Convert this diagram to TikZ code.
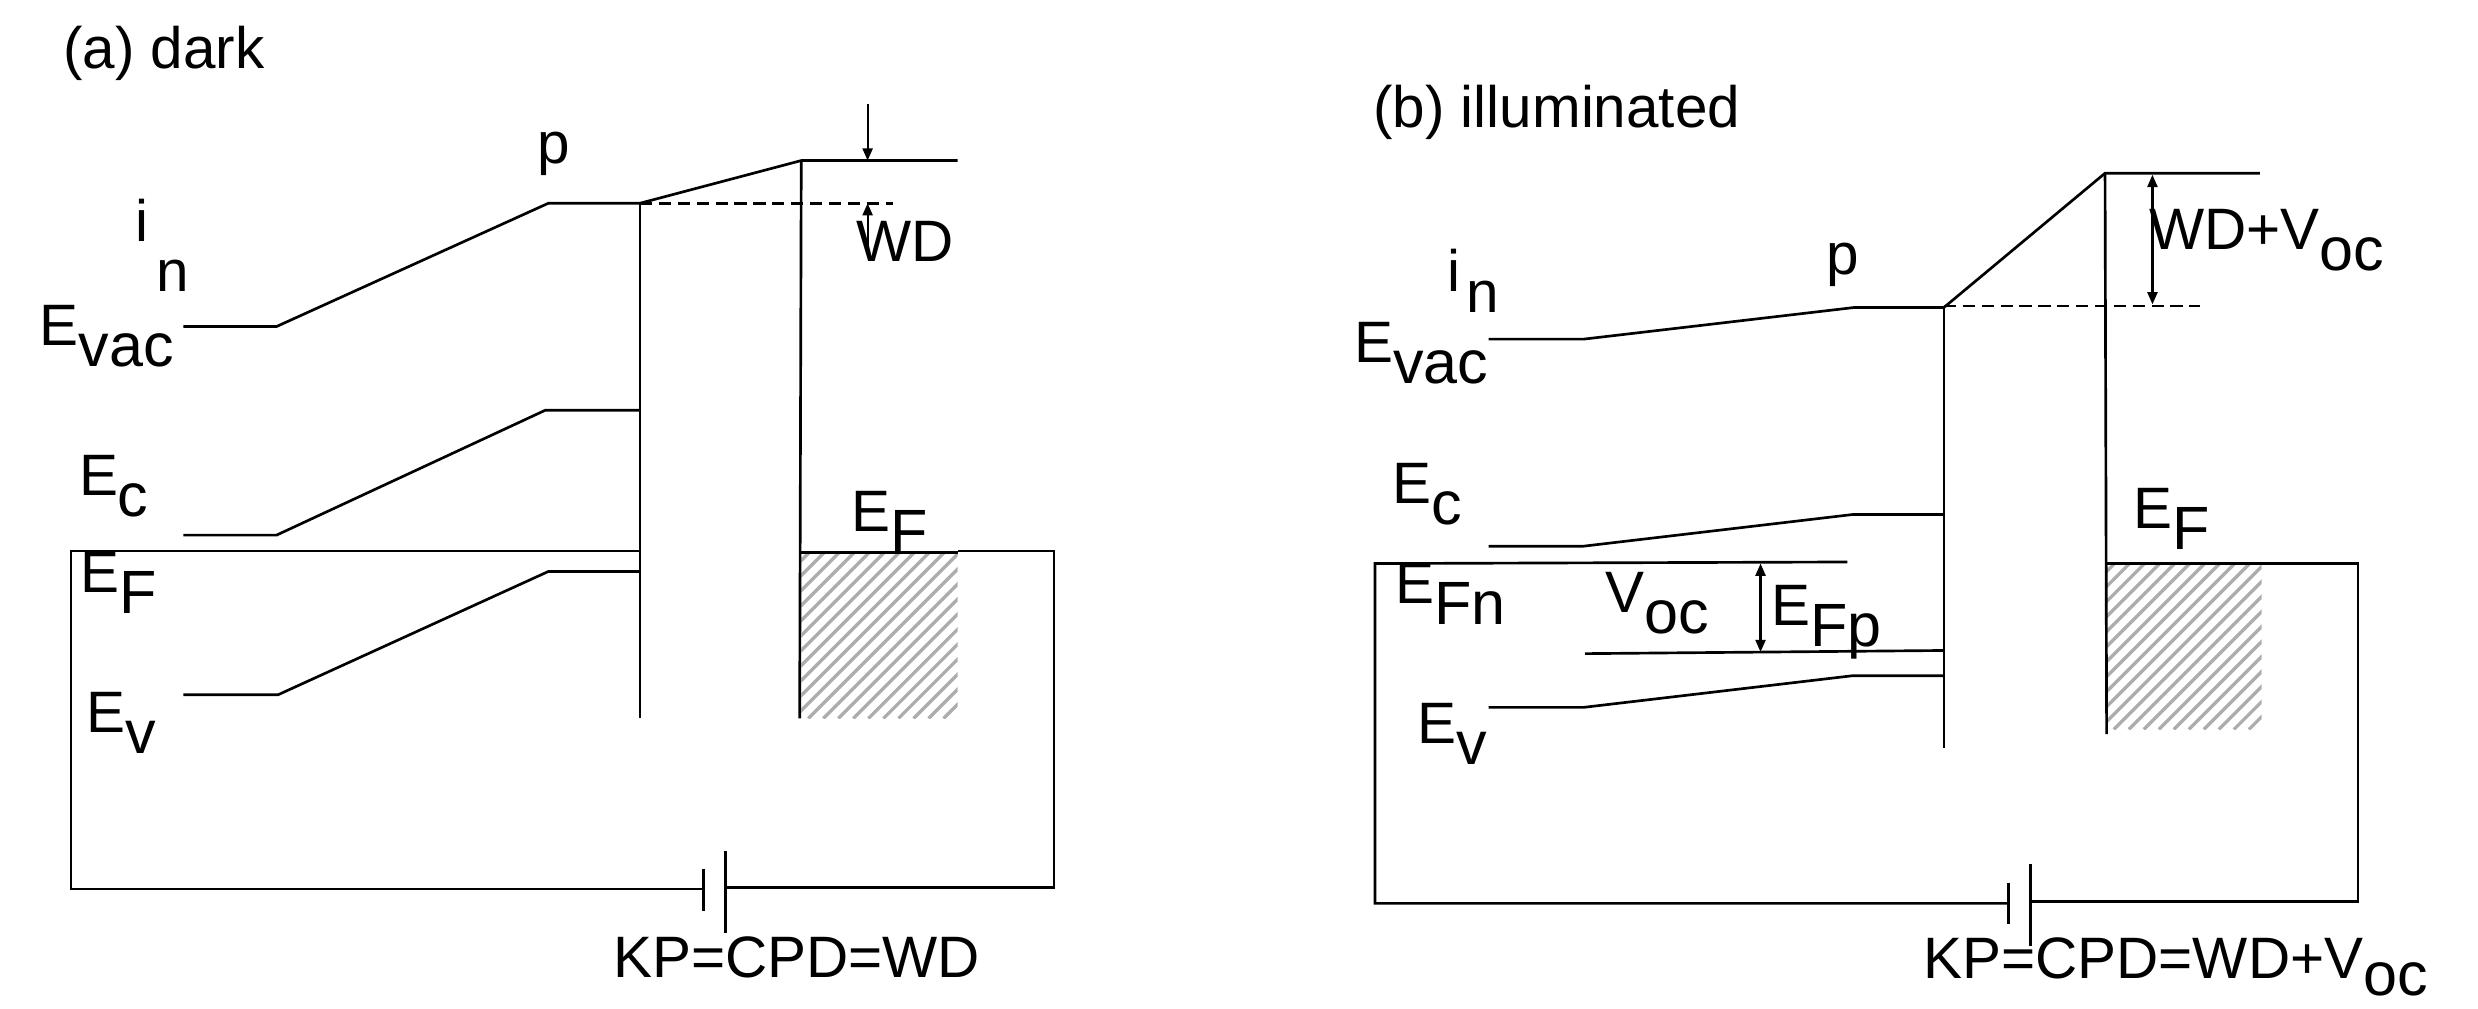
\documentclass[tikz,border=0pt]{standalone}
\usepackage{fontspec}
\setmainfont{Liberation Sans}
\usetikzlibrary{arrows.meta}
\tikzset{
  x=0.5mm,y=-0.5mm,
  band/.style={line width=2.4pt,black},
  dim/.style={line width=2pt,black,{Triangle[length=11pt,width=9pt]}-{Triangle[length=11pt,width=9pt]}},
  dimone/.style={line width=2pt,black,-{Triangle[length=11pt,width=9pt]}},
  lab/.style={anchor=base west,inner sep=0pt,outer sep=0pt,font=\fontsize{52.6}{60}\selectfont},
  stripe/.style={line width=3pt,black!32},
}
\newcommand{\dn}[1]{\raisebox{-0.36em}{\fontsize{55}{60}\selectfont #1}}
\newcommand{\dnlow}[1]{\raisebox{-0.29em}{\fontsize{55}{60}\selectfont #1}}
\newcommand{\hatchbox}[4]{%
  \begin{scope}
    \clip (#1,#2) rectangle (#3,#4);
    \foreach \k in {0,9.5,...,240}{
      \draw[stripe] (#1-5+\k,#4) -- ++(130,-130*1);
    }
    \foreach \k in {9.5,19,...,120}{
      \draw[stripe] (#1-5-\k,#4) -- ++(130,-130*1);
    }
  \end{scope}}
\begin{document}
\begin{tikzpicture}
\useasboundingbox (0,-0.6) rectangle (1568,637.8);
% ---------- panel (a)
\hatchbox{507}{349}{606}{454}
\draw[band] (116,206) -- (175,206) -- (347,128) -- (405,128) -- (507,101) -- (606,101);
\draw[band] (116,338) -- (175,338) -- (345,259) -- (405,259);
\draw[band] (116,439) -- (176,439) -- (347,361) -- (405,361);
\draw[band] (405,128) -- (405,454);
\draw[band] (507,101) -- (506,454);
\draw[band,dash pattern=on 11pt off 6pt] (405,128) -- (565,128);
\draw[dimone] (549,65) -- (549,101);
\draw[dimone] (549,158) -- (549,128);
\draw[band] (405,348) -- (45,348) -- (45,562) -- (445,562);
\draw[band] (445,549) -- (445,576);
\draw[band] (459,538) -- (459,590);
\draw[band] (459,561) -- (667,561) -- (667,348) -- (606,348);
\draw[band] (507,349) -- (606,349);
\node[lab] (atitle) at (40,43) {(a) dark};
\node[lab] (ap) at (340,103) {p};
\node[lab] (ai) at (86,152) {i};
\node[lab] (an) at (99,184) {n};
\node[lab] (aevac) at (25,218) {E\dn{vac}};
\node[lab] (aec) at (50,313) {E\dn{c}};
\node[lab] (aef) at (51,374) {E\dn{F}};
\node[lab] (aefr) at (539,336) {E\dn{F}};
\node[lab] (aev) at (55,463) {E\dn{v}};
\node[lab] (awd) at (542,165) {WD};
\node[lab] (akp) at (388,618) {KP=CPD=WD};
% ---------- panel (b)
\hatchbox{1333}{357}{1431}{461}
\draw[band] (942,214) -- (1002,214) -- (1173,194) -- (1230,194) -- (1332,109) -- (1430,109);
\draw[band] (942,345) -- (1002,345) -- (1172,325) -- (1230,325);
\draw[band] (942,447) -- (1002,447) -- (1172,427) -- (1230,427);
\draw[band] (1003,413) -- (1230,411);
\draw[band] (1230,194) -- (1230,473);
\draw[band] (1332,109) -- (1333,464);
\draw[band,dash pattern=on 11pt off 6pt] (1230,193) -- (1392,193);
\draw[dim] (1362,110) -- (1362,192);
\draw[dim] (1114,356) -- (1114,412);
\draw[band] (1169,355) -- (870,356) -- (870,571) -- (1271,571);
\draw[band] (1271,558) -- (1271,584);
\draw[band] (1285,546) -- (1285,598);
\draw[band] (1285,570) -- (1492,570) -- (1492,356) -- (1333,356);
\node[lab] (btitle) at (869,80) {(b) illuminated};
\node[lab] (bp) at (1156,173) {p};
\node[lab] (bi) at (916,184) {i};
\node[lab] (bn) at (928,197) {n};
\node[lab] (bevac) at (857,229) {E\dn{vac}};
\node[lab] (bec) at (881,318) {E\dn{c}};
\node[lab] (befn) at (883,381) {E\dn{Fn}};
\node[lab] (bvoc) at (1016,387) {V\dn{oc}};
\node[lab] (befp) at (1121,395) {E\dn{Fp}};
\node[lab] (bef) at (1350,334) {E\dn{F}};
\node[lab] (bev) at (897,470) {E\dn{v}};
\node[lab] (bwd) at (1360,157) {WD+V\dn{oc}};
\node[lab] (bkp) at (1217,618.5) {KP=CPD=WD+V\dnlow{oc}};
\end{tikzpicture}
\end{document}
